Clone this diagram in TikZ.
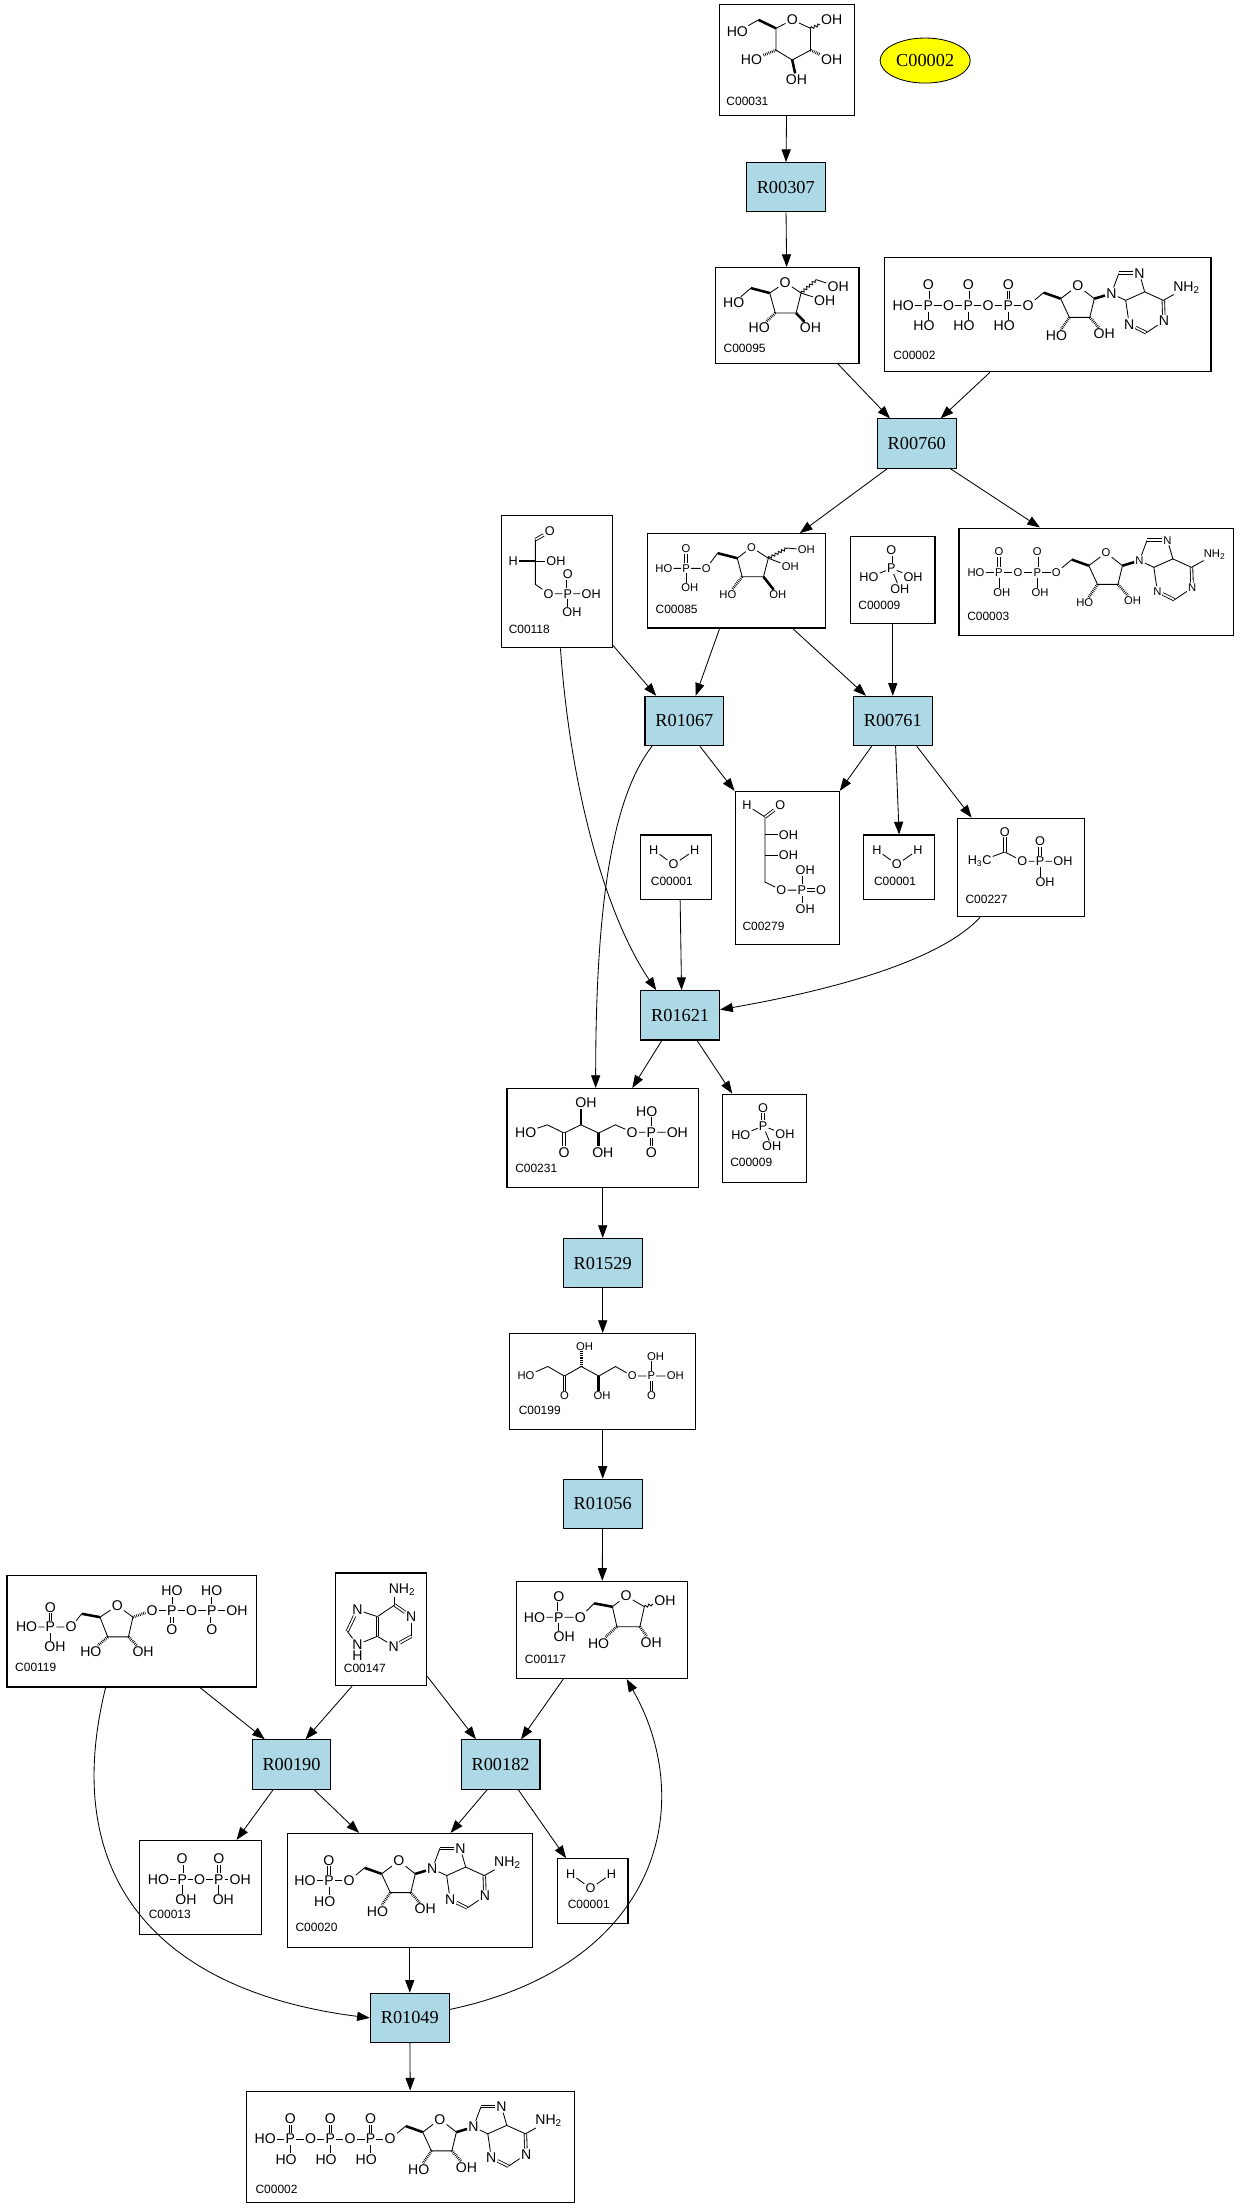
\documentclass[tikz,border=0pt]{standalone}
\usepackage{fontspec}
\setmainfont{Liberation Serif}
\newfontfamily\chemfont{Liberation Sans}
\usetikzlibrary{arrows.meta,shapes.geometric,decorations.pathmorphing}
\definecolor{rxnblue}{HTML}{ADD8E6}
\definecolor{cpdyellow}{HTML}{FFFF00}

\tikzset{
  cpd/.style={draw, line width=0.8pt, inner sep=0},
  rxn/.style={draw, line width=0.8pt, fill=rxnblue, minimum width=56pt,
    minimum height=35pt, inner sep=0, font=\fontsize{13}{13}\selectfont},
  flow/.style={->, line width=0.6pt},
  chem/.style={line width=0.6pt},
  atom/.style={font=\chemfont\fontsize{10}{10}\selectfont, inner sep=0.6pt},
  atomsmall/.style={atom/.append style={font=\chemfont\fontsize{8}{8}\selectfont}},
  atommid/.style={atom/.append style={font=\chemfont\fontsize{9}{9}\selectfont}},
  cid/.style={font=\chemfont\fontsize{8.5}{8.5}\selectfont, anchor=base west, inner sep=0},
  dbl/.style={double, double distance=1.2pt},
  wedgeb/.style={line width=1.8pt},
  hashb/.style={line width=2pt, dash pattern=on 0.5pt off 0.8pt},
  wavy/.style={decorate, decoration={snake, amplitude=0.9pt, segment length=2.6pt}},
}

% phosphorus with =O above and OH below
\newcommand{\pgroup}[5]{%
  \node[atom] (#3) at (#1,#2) {P};
  \node[atom] (#3o) at (#1,{#2-14.6}) {O};
  \node[atom] (#3h) at ({#1+(#5)},{#2+14.5}) {#4};
  \draw[dbl] (#3) -- (#3o);
  \draw (#3) -- (#3h.north -| #3);
}

% ribose + adenine, origin at the 5'-O
\newcommand{\adenosine}{%
  \node[atom] (o5) at (0,0) {O};
  \coordinate (c5) at (11,-9.2);
  \coordinate (c4) at (23.1,-4.9);
  \node[atom] (or) at (35.3,-14.1) {O};
  \coordinate (c1) at (47,-4.9);
  \coordinate (c2) at (43.8,8.4);
  \coordinate (c3) at (29.3,8.4);
  \node[atom] (h3) at (20.2,21.6) {HO};
  \node[atom] (h2) at (54.1,20.1) {OH};
  \node[atom] (n9) at (59.1,-8.5) {N};
  \coordinate (a8) at (64.5,-23);
  \node[atom] (n7) at (79,-23) {N};
  \coordinate (a5) at (82.8,-9.7);
  \coordinate (a4) at (69.3,-3.7);
  \node[atom] (n3) at (71.8,13.3) {N};
  \coordinate (a2) at (83.9,19.3);
  \node[atom] (n1) at (96.5,10.9) {N};
  \coordinate (a6) at (96,-3.7);
  \node[atom] (nh) at (112.5,-12.9) {NH\textsubscript{2}};
  \draw (o5) -- (c5); \draw[wedgeb] (c4) -- (c5);
  \draw (c4) -- (or) -- (c1) -- (c2) -- (c3) -- (c4);
  \draw[hashb] (c3) -- (h3); \draw[hashb] (c2) -- (h2); \draw[wedgeb] (c1) -- (n9);
  \draw (n9) -- (a8); \draw[dbl] (a8) -- (n7); \draw (n7) -- (a5) -- (a4) -- (n9);
  \draw (a4) -- (n3); \draw[dbl] (n3) -- (a2); \draw (a2) -- (n1);
  \draw[dbl] (n1) -- (a6); \draw (a6) -- (a5); \draw (a6) -- (nh);
}

\newcommand{\phosphate}[2]{%
  \begin{scope}[chem, atommid, shift={(#1.north west)}]
    \node[atom] (p) at (29.3,23) {P};
    \node[atom] (po) at (29.3,10) {O};
    \node[atom] (ph) at (13.5,29.6) {HO};
    \node[atom] (pr) at (44.8,29) {OH};
    \node[atom] (pb) at (35.4,37.6) {OH};
    \draw[dbl] (p) -- (po); \draw (p) -- (ph); \draw (p) -- (pr); \draw (p) -- (pb);
    \node[cid] (#2) at (5.7,52) {C00009};
  \end{scope}}

\newcommand{\water}[2]{%
  \begin{scope}[chem, atommid, shift={(#1.north west)}]
    \node[atom] (wa) at (9.6,11) {H};
    \node[atom] (wo) at (23.8,21.4) {O};
    \node[atom] (wb) at (38.7,11) {H};
    \draw (wa) -- (wo) -- (wb);
    \node[cid] (#2) at (7.3,36) {C00001};
  \end{scope}}

\newcommand{\atp}[2]{%
  \begin{scope}[chem, shift={(#1.north west)}]
    \node[atom] (ho) at (13.8,34.4) {HO};
    \pgroup{31.6}{34.4}{pa}{HO}{-3}
    \node[atom] (oa) at (46,34.4) {O};
    \pgroup{60}{34.4}{pb}{HO}{-3}
    \node[atom] (ob) at (74,34.4) {O};
    \pgroup{88.5}{34.4}{pc}{HO}{-3}
    \begin{scope}[shift={(102.5,34.4)}]\adenosine\end{scope}
    \draw (ho) -- (pa) -- (oa) -- (pb) -- (ob) -- (pc) -- (o5);
    \node[cid] (#2) at (6.6,72.8) {C00002};
  \end{scope}}

\begin{document}
\begin{tikzpicture}[x=1pt,y=-1pt,>={Triangle[length=9pt,width=6.5pt]}]
  \path[use as bounding box, fill=white] (0,0) rectangle (880,1568);

  % compounds
  \node[cpd, minimum width=96pt, minimum height=79pt] (c00031) at (559,42.5) {};
  \node[draw, ellipse, fill=cpdyellow, line width=0.6pt, minimum width=64pt,
    minimum height=32pt, inner sep=0, font=\fontsize{13}{13}\selectfont] (c00002e) at (657,43) {C00002};
  \node[cpd, minimum width=102pt, minimum height=68pt] (c00095) at (559,224) {};
  \node[cpd, minimum width=232pt, minimum height=81pt] (c00002a) at (744,223.5) {};
  \node[cpd, minimum width=79pt, minimum height=94pt] (c00118) at (395.5,413) {};
  \node[cpd, minimum width=126pt, minimum height=67pt] (c00085) at (523,412.5) {};
  \node[cpd, minimum width=60pt, minimum height=62pt] (c00009a) at (634,412) {};
  \node[cpd, minimum width=195pt, minimum height=76pt] (c00003) at (778.5,413) {};
  \node[cpd, minimum width=74pt, minimum height=109pt] (c00279) at (559,616.5) {};
  \node[cpd, minimum width=50pt, minimum height=46pt] (c00001a) at (480,616) {};
  \node[cpd, minimum width=50pt, minimum height=46pt] (c00001b) at (638.5,616) {};
  \node[cpd, minimum width=90pt, minimum height=70pt] (c00227) at (725,616) {};
  \node[cpd, minimum width=136pt, minimum height=70pt] (c00231) at (428,808) {};
  \node[cpd, minimum width=60pt, minimum height=63pt] (c00009b) at (543,808.5) {};
  \node[cpd, minimum width=132pt, minimum height=68pt] (c00199) at (428,981) {};
  \node[cpd, minimum width=121pt, minimum height=69pt] (c00117) at (427.5,1157.5) {};
  \node[cpd, minimum width=177pt, minimum height=79pt] (c00119) at (93.5,1158.5) {};
  \node[cpd, minimum width=65pt, minimum height=80pt] (c00147) at (270.5,1157) {};
  \node[cpd, minimum width=87pt, minimum height=67pt] (c00013) at (142.5,1340.5) {};
  \node[cpd, minimum width=174pt, minimum height=81pt] (c00020) at (291,1342.5) {};
  \node[cpd, minimum width=50pt, minimum height=46pt] (c00001c) at (421,1343) {};
  \node[cpd, minimum width=233pt, minimum height=79pt] (c00002b) at (291.5,1524.5) {};

  % reactions
  \node[rxn] (r00307) at (558,133) {R00307};
  \node[rxn] (r00760) at (651,315) {R00760};
  \node[rxn] (r01067) at (486,512) {R01067};
  \node[rxn] (r00761) at (634,512) {R00761};
  \node[rxn] (r01621) at (483,721) {R01621};
  \node[rxn] (r01529) at (428,897) {R01529};
  \node[rxn] (r01056) at (428,1068) {R01056};
  \node[rxn] (r00190) at (207,1253) {R00190};
  \node[rxn] (r00182) at (355.5,1253) {R00182};
  \node[rxn] (r01049) at (291,1433) {R01049};

  % C00031
  \begin{scope}[chem, shift={(c00031.north west)}]
    \coordinate (k1) at (65,17.5); \coordinate (k2) at (65,33);
    \coordinate (k3) at (52,40); \coordinate (k4) at (40.5,33);
    \coordinate (k5) at (40.5,17.5); \coordinate (k6) at (28,11.5);
    \node[atom] (ro) at (52,11.5) {O};
    \node[atom] (h1) at (80,11.5) {OH};
    \node[atom] (h6) at (13,20) {HO};
    \node[atom] (h4) at (23,40) {HO};
    \node[atom] (h2) at (80,40) {OH};
    \node[atom] (h3) at (55,54) {OH};
    \draw (k5) -- (ro) -- (k1) -- (k2) -- (k3) -- (k4) -- (k5);
    \draw[wavy] (k1) -- (h1);
    \draw[wedgeb] (k5) -- (k6); \draw (k6) -- (h6);
    \draw[hashb] (k4) -- (h4); \draw[hashb] (k2) -- (h2); \draw[wedgeb] (k3) -- (h3);
    \node[cid] (i00031) at (5,72) {C00031};
  \end{scope}

  % C00095
  \begin{scope}[chem, shift={(c00095.north west)}]
    \coordinate (f2) at (61.3,18.5); \coordinate (f3) at (57.7,32.7);
    \coordinate (f4) at (43,32.7); \coordinate (f5) at (39,18.5);
    \coordinate (f6) at (25.6,15); \coordinate (f1) at (72,9);
    \node[atom] (ro) at (50,11) {O};
    \node[atom] (h6) at (13.4,25.6) {HO};
    \node[atom] (h1) at (87.6,14.2) {OH};
    \node[atom] (h2) at (78,24) {OH};
    \node[atom] (h4) at (31.6,43.4) {HO};
    \node[atom] (h3) at (68,43.4) {OH};
    \draw (f5) -- (ro) -- (f2) -- (f3) -- (f4) -- (f5);
    \draw[wedgeb] (f5) -- (f6); \draw (f6) -- (h6);
    \draw[wavy] (f2) -- (f1); \draw (f1) -- (h1); \draw (f2) -- (h2);
    \draw[hashb] (f4) -- (h4); \draw[wedgeb] (f3) -- (h3);
    \node[cid] (i00095) at (6,61) {C00095};
  \end{scope}

  \atp{c00002a}{i00002a}
  \atp{c00002b}{i00002b}

  % C00003
  \begin{scope}[chem, atomsmall, shift={(c00003.north west)}]
    \node[atom] (ho) at (12.5,32) {HO};
    \pgroup{28.8}{32}{pa}{OH}{2}
    \node[atom] (oa) at (42.4,32) {O};
    \pgroup{56}{32}{pb}{OH}{2}
    \begin{scope}[shift={(69.5,32)}]\adenosine\end{scope}
    \draw (ho) -- (pa) -- (oa) -- (pb) -- (o5);
    \node[cid] (i00003) at (6,66) {C00003};
  \end{scope}

  % C00118
  \begin{scope}[chem, atommid, shift={(c00118.north west)}]
    \coordinate (g1) at (24.6,17.6); \coordinate (g2) at (24.6,32.9);
    \coordinate (g3) at (24.6,49.4);
    \node[atom] (o1) at (34.8,11.8) {O};
    \node[atom] (hh) at (8.8,32.9) {H};
    \node[atom] (h2) at (39.2,32.9) {OH};
    \node[atom] (o3) at (34,56) {O};
    \node[atom] (p) at (47.6,56) {P};
    \node[atom] (po) at (47.6,42.3) {O};
    \node[atom] (pr) at (64.2,56) {OH};
    \node[atom] (pb) at (50.6,69.3) {OH};
    \draw[dbl] (g1) -- (o1); \draw (g1) -- (g2) -- (g3) -- (o3) -- (p) -- (pr);
    \draw[wedgeb] (g2) -- (hh); \draw (g2) -- (h2);
    \draw[dbl] (p) -- (po); \draw (p) -- (pb.north -| p);
    \node[cid] (i00118) at (5.4,84) {C00118};
  \end{scope}

  % C00085
  \begin{scope}[chem, atomsmall, shift={(c00085.north west)}]
    \coordinate (m6) at (50,14.2); \coordinate (m5) at (64,17.8);
    \coordinate (m2) at (86,17.8); \coordinate (m3) at (82.6,31);
    \coordinate (m4) at (67.4,31); \coordinate (m1) at (99.5,10.6);
    \node[atom] (ph) at (11.8,25) {HO};
    \node[atom] (p) at (27.6,25) {P};
    \node[atom] (po) at (27.6,11) {O};
    \node[atom] (pl) at (30.3,39) {OH};
    \node[atom] (o6) at (42,25) {O};
    \node[atom] (ro) at (74,10) {O};
    \node[atom] (h1) at (113,11.8) {OH};
    \node[atom] (h2) at (101.6,23.8) {OH};
    \node[atom] (h4) at (57.3,43.9) {HO};
    \node[atom] (h3) at (92.7,43.9) {OH};
    \draw (ph) -- (p) -- (o6) -- (m6); \draw[dbl] (p) -- (po); \draw (p) -- (pl.north -| p);
    \draw[wedgeb] (m5) -- (m6);
    \draw (m5) -- (ro) -- (m2) -- (m3) -- (m4) -- (m5);
    \draw[wavy] (m2) -- (m1); \draw (m1) -- (h1); \draw (m2) -- (h2);
    \draw[hashb] (m4) -- (h4); \draw[wedgeb] (m3) -- (h3);
    \node[cid] (i00085) at (5.7,57) {C00085};
  \end{scope}

  \phosphate{c00009a}{i00009a}
  \phosphate{c00009b}{i00009b}
  \water{c00001a}{i00001a}
  \water{c00001b}{i00001b}
  \water{c00001c}{i00001c}

  % C00279
  \begin{scope}[chem, atommid, shift={(c00279.north west)}]
    \coordinate (e1) at (21.7,18.6); \coordinate (e2) at (21.7,31.3);
    \coordinate (e3) at (21.7,45.6); \coordinate (e4) at (21.7,64.8);
    \node[atom] (hh) at (8.8,10.3) {H};
    \node[atom] (eo) at (32.6,10.3) {O};
    \node[atom] (h2) at (38.3,31.3) {OH};
    \node[atom] (h3) at (38.3,45.6) {OH};
    \node[atom] (o4) at (33.3,70.5) {O};
    \node[atom] (p) at (47.9,70.5) {P};
    \node[atom] (pa) at (50.2,56.2) {OH};
    \node[atom] (pr) at (61.4,70.5) {O};
    \node[atom] (pb) at (50.2,83.9) {OH};
    \draw (hh) -- (e1) -- (e2) -- (e3) -- (e4) -- (o4) -- (p);
    \draw[dbl] (e1) -- (eo); \draw (e2) -- (h2); \draw (e3) -- (h3);
    \draw (p) -- (pa.south -| p); \draw[dbl] (p) -- (pr); \draw (p) -- (pb.north -| p);
    \node[cid] (i00279) at (5.4,99) {C00279};
  \end{scope}

  % C00227
  \begin{scope}[chem, atommid, shift={(c00227.north west)}]
    \coordinate (c1) at (34,24.4);
    \node[atom] (me) at (16.1,31) {H\textsubscript{3}C};
    \node[atom] (co) at (34,10) {O};
    \node[atom] (o) at (46.4,31) {O};
    \node[atom] (p) at (59,31) {P};
    \node[atom] (pa) at (59,16.7) {O};
    \node[atom] (pr) at (75.2,31) {OH};
    \node[atom] (pb) at (62.5,46) {OH};
    \draw (me) -- (c1) -- (o) -- (p) -- (pr); \draw[dbl] (c1) -- (co);
    \draw[dbl] (p) -- (pa); \draw (p) -- (pb.north -| p);
    \node[cid] (i00227) at (5.8,61) {C00227};
  \end{scope}

  % C00231
  \begin{scope}[chem, shift={(c00231.north west)}]
    \coordinate (x1) at (29,26.2); \coordinate (x2) at (41,32);
    \coordinate (x3) at (52.9,26.2); \coordinate (x4) at (65.5,32);
    \coordinate (x5) at (77.4,26.2);
    \node[atom] (ho) at (13.7,31.4) {HO};
    \node[atom] (xo) at (41,45.9) {O};
    \node[atom] (h3) at (56.5,10.5) {OH};
    \node[atom] (h4) at (68.5,45.9) {OH};
    \node[atom] (o) at (89.3,31.4) {O};
    \node[atom] (p) at (103,31.4) {P};
    \node[atom] (pa) at (99.7,16.5) {HO};
    \node[atom] (pr) at (121.4,31.4) {OH};
    \node[atom] (pb) at (103,45.9) {O};
    \draw (ho) -- (x1) -- (x2) -- (x3) -- (x4) -- (x5) -- (o) -- (p) -- (pr);
    \draw[dbl] (x2) -- (xo);
    \draw[wedgeb] (x3) -- (h3.south -| x3); \draw[wedgeb] (x4) -- (h4.north -| x4);
    \draw (p) -- (pa.south -| p); \draw[dbl] (p) -- (pb);
    \node[cid] (i00231) at (6,60) {C00231};
  \end{scope}

  % C00199
  \begin{scope}[chem, atomsmall, shift={(c00199.north west)}]
    \coordinate (y1) at (27.4,23.8); \coordinate (y2) at (39.2,30.6);
    \coordinate (y3) at (51.1,23.8); \coordinate (y4) at (63.6,30.6);
    \coordinate (y5) at (75.5,23.8);
    \node[atom] (ho) at (11.9,30.6) {HO};
    \node[atom] (yo) at (39.2,44.7) {O};
    \node[atom] (h3) at (53.5,9.4) {OH};
    \node[atom] (h4) at (66,44.7) {OH};
    \node[atom] (o) at (87.4,30.6) {O};
    \node[atom] (p) at (101,30.6) {P};
    \node[atom] (pa) at (104,16.5) {OH};
    \node[atom] (pr) at (118,30.6) {OH};
    \node[atom] (pb) at (101,44.7) {O};
    \draw (ho) -- (y1) -- (y2) -- (y3) -- (y4) -- (y5) -- (o) -- (p) -- (pr);
    \draw[dbl] (y2) -- (yo);
    \draw[hashb] (y3) -- (h3.south -| y3); \draw[wedgeb] (y4) -- (h4.north -| y4);
    \draw (p) -- (pa.south -| p); \draw[dbl] (p) -- (pb);
    \node[cid] (i00199) at (6.5,58) {C00199};
  \end{scope}

  % C00117
  \begin{scope}[chem, shift={(c00117.north west)}]
    \coordinate (r5) at (55.3,16); \coordinate (r4) at (68.3,18.4);
    \coordinate (r1) at (91,18.4); \coordinate (r2) at (87.8,32.6);
    \coordinate (r3) at (71.5,32.6);
    \node[atom] (po) at (30.2,10.9) {O};
    \node[atom] (ph) at (13,25.9) {HO};
    \node[atom] (p) at (30.2,25.9) {P};
    \node[atom] (o) at (45.5,25.9) {O};
    \node[atom] (pl) at (34.1,40) {OH};
    \node[atom] (ro) at (78,10.8) {O};
    \node[atom] (h1) at (105.6,14.1) {OH};
    \node[atom] (h3) at (58.5,44.3) {HO};
    \node[atom] (h2) at (95.9,43.6) {OH};
    \draw[dbl] (p) -- (po); \draw (ph) -- (p) -- (o) -- (r5); \draw (p) -- (pl.north -| p);
    \draw[wedgeb] (r4) -- (r5);
    \draw (r4) -- (ro) -- (r1) -- (r2) -- (r3) -- (r4);
    \draw[wavy] (r1) -- (h1); \draw[hashb] (r3) -- (h3); \draw[hashb] (r2) -- (h2);
    \node[cid] (i00117) at (5.9,59) {C00117};
  \end{scope}

  % C00119
  \begin{scope}[chem, shift={(c00119.north west)}]
    \coordinate (s5) at (53.4,27.4); \coordinate (s4) at (66.4,29.8);
    \coordinate (s1) at (89.8,29.8); \coordinate (s2) at (86.6,43.8);
    \coordinate (s3) at (71.9,43.8);
    \node[atom] (ph) at (14.3,36.8) {HO};
    \node[atom] (p1) at (31.2,36.8) {P};
    \node[atom] (po) at (31.2,22.7) {O};
    \node[atom] (pl) at (34.5,50.9) {OH};
    \node[atom] (o1) at (45.9,36.8) {O};
    \node[atom] (ro) at (78.7,21.6) {O};
    \node[atom] (h3) at (59.9,54.4) {HO};
    \node[atom] (h2) at (97,54.4) {OH};
    \node[atom] (oa) at (103.5,25) {O};
    \node[atom] (p2) at (117.5,25) {P};
    \node[atom] (pa) at (117.5,11) {HO};
    \node[atom] (pb) at (117.5,38.4) {O};
    \node[atom] (ob) at (131.5,25) {O};
    \node[atom] (p3) at (145.8,25) {P};
    \node[atom] (pc) at (145.8,11) {HO};
    \node[atom] (pd) at (145.8,38.4) {O};
    \node[atom] (pr) at (163.7,25) {OH};
    \draw (ph) -- (p1) -- (o1) -- (s5); \draw[dbl] (p1) -- (po); \draw (p1) -- (pl.north -| p1);
    \draw[wedgeb] (s4) -- (s5);
    \draw (s4) -- (ro) -- (s1) -- (s2) -- (s3) -- (s4);
    \draw[hashb] (s3) -- (h3); \draw[hashb] (s2) -- (h2); \draw[hashb] (s1) -- (oa);
    \draw (oa) -- (p2) -- (ob) -- (p3) -- (pr);
    \draw (p2) -- (pa.south -| p2); \draw[dbl] (p2) -- (pb);
    \draw (p3) -- (pc.south -| p3); \draw[dbl] (p3) -- (pd);
    \node[cid] (i00119) at (5.9,68.4) {C00119};
  \end{scope}

  % C00147
  \begin{scope}[chem, shift={(c00147.north west)}]
    \coordinate (d6) at (42.6,23.2); \coordinate (d2) at (54.5,45.4);
    \coordinate (d4) at (30.4,45.4); \coordinate (d5) at (30.4,31.4);
    \coordinate (d8) at (9,41.9);
    \node[atom] (nh) at (47.9,12.2) {NH\textsubscript{2}};
    \node[atom] (n1) at (54.5,31.4) {N};
    \node[atom] (n3) at (41.9,52.4) {N};
    \node[atom] (n7) at (16.2,26.7) {N};
    \node[atom] (n9) at (16.2,51.2) {N};
    \node[atom] (hh) at (16.2,59) {H};
    \draw (d6) -- (nh.south -| d6); \draw[dbl] (d6) -- (n1); \draw (n1) -- (d2);
    \draw[dbl] (d2) -- (n3); \draw (n3) -- (d4); \draw[dbl] (d4) -- (d5);
    \draw (d5) -- (d6); \draw (d5) -- (n7); \draw[dbl] (n7) -- (d8);
    \draw (d8) -- (n9) -- (d4);
    \node[cid] (i00147) at (6.3,71) {C00147};
  \end{scope}

  % C00013
  \begin{scope}[chem, shift={(c00013.north west)}]
    \node[atom] (ho) at (13.9,28) {HO};
    \pgroup{30.8}{28}{pa}{OH}{2.6}
    \node[atom] (oa) at (43.2,28) {O};
    \pgroup{56.8}{28}{pb}{OH}{3.2}
    \node[atom] (pr) at (72,28) {OH};
    \draw (ho) -- (pa) -- (oa) -- (pb) -- (pr);
    \node[cid] (i00013) at (6.8,56) {C00013};
  \end{scope}

  % C00020
  \begin{scope}[chem, shift={(c00020.north west)}]
    \node[atom] (ho) at (13,34) {HO};
    \pgroup{30}{34}{pa}{HO}{-3}
    \begin{scope}[shift={(44.3,34)}]\adenosine\end{scope}
    \draw (ho) -- (pa) -- (o5);
    \node[cid] (i00020) at (6,70) {C00020};
  \end{scope}

  % connectors
  \draw[flow] (c00031) -- (r00307);
  \draw[flow] (r00307) -- (c00095);
  \draw[flow] ([xshift=36pt]c00095.south) -- ([xshift=-19pt]r00760.north);
  \draw[flow] ([xshift=-41pt]c00002a.south) -- ([xshift=17pt]r00760.north);
  \draw[flow] ([xshift=-21pt]r00760.south) -- ([xshift=45pt]c00085.north);
  \draw[flow] ([xshift=24pt]r00760.south) -- ([xshift=-40pt]c00003.north);
  \draw[flow] ([yshift=2pt]c00118.south east) -- ([xshift=-20pt]r01067.north);
  \draw[flow] ([xshift=-12pt]c00085.south) -- ([xshift=8pt]r01067.north);
  \draw[flow] ([xshift=40pt]c00085.south) -- ([xshift=-19pt]r00761.north);
  \draw[flow] (c00009a) -- (r00761);
  \draw[flow] ([xshift=11pt]r01067.south) -- (c00279.north west);
  \draw[flow] ([xshift=-15pt]r00761.south) -- (c00279.north east);
  \draw[flow] ([xshift=2pt]r00761.south) -- (c00001b.north);
  \draw[flow] ([xshift=17pt]r00761.south) -- ([xshift=-35pt]c00227.north);
  \draw[flow] ([xshift=-23pt]r01067.south) .. controls (440,560) and (423,620) .. ([xshift=-5pt]c00231.north);
  \draw[flow] ([xshift=2.5pt]c00118.south) .. controls (405,560) and (430,650) .. ([xshift=-17pt]r01621.north);
  \draw[flow] ([xshift=3pt]c00001a.south) -- ([xshift=1pt]r01621.north);
  \draw[flow] ([xshift=-29pt]c00227.south) .. controls (665,685) and (580,705) .. ([yshift=4pt]r01621.east);
  \draw[flow] ([xshift=-13pt]r01621.south) -- ([xshift=21pt]c00231.north);
  \draw[flow] ([xshift=12pt]r01621.south) -- ([xshift=-23pt]c00009b.north);
  \draw[flow] (c00231) -- (r01529);
  \draw[flow] (r01529) -- (c00199);
  \draw[flow] (c00199) -- (r01056);
  \draw[flow] (r01056) -- (c00117);
  \draw[flow] ([xshift=48.5pt]c00119.south) -- ([xshift=-19pt]r00190.north);
  \draw[flow] ([xshift=-20.5pt]c00147.south) -- ([xshift=10pt]r00190.north);
  \draw[flow] ([yshift=7pt]c00147.south east) -- ([xshift=-17.5pt]r00182.north);
  \draw[flow] ([xshift=-27.5pt]c00117.south) -- ([xshift=14.5pt]r00182.north);
  \draw[flow] ([xshift=-13pt]r00190.south) -- ([xshift=25.5pt]c00013.north);
  \draw[flow] ([xshift=16pt]r00190.south) -- ([xshift=-36pt]c00020.north);
  \draw[flow] ([xshift=-9.5pt]r00182.south) -- ([xshift=29pt]c00020.north);
  \draw[flow] ([xshift=12.5pt]r00182.south) -- ([xshift=-19pt]c00001c.north);
  \draw[flow] (c00020) -- (r01049);
  \draw[flow] ([xshift=-18.5pt]c00119.south) .. controls (40,1340) and (120,1415) .. (r01049.west);
  \draw[flow] ([yshift=6pt]r01049.east) .. controls (470,1395) and (495,1280) .. ([xshift=17.5pt]c00117.south);
  \draw[flow] (r01049) -- (c00002b);
\end{tikzpicture}
\end{document}
